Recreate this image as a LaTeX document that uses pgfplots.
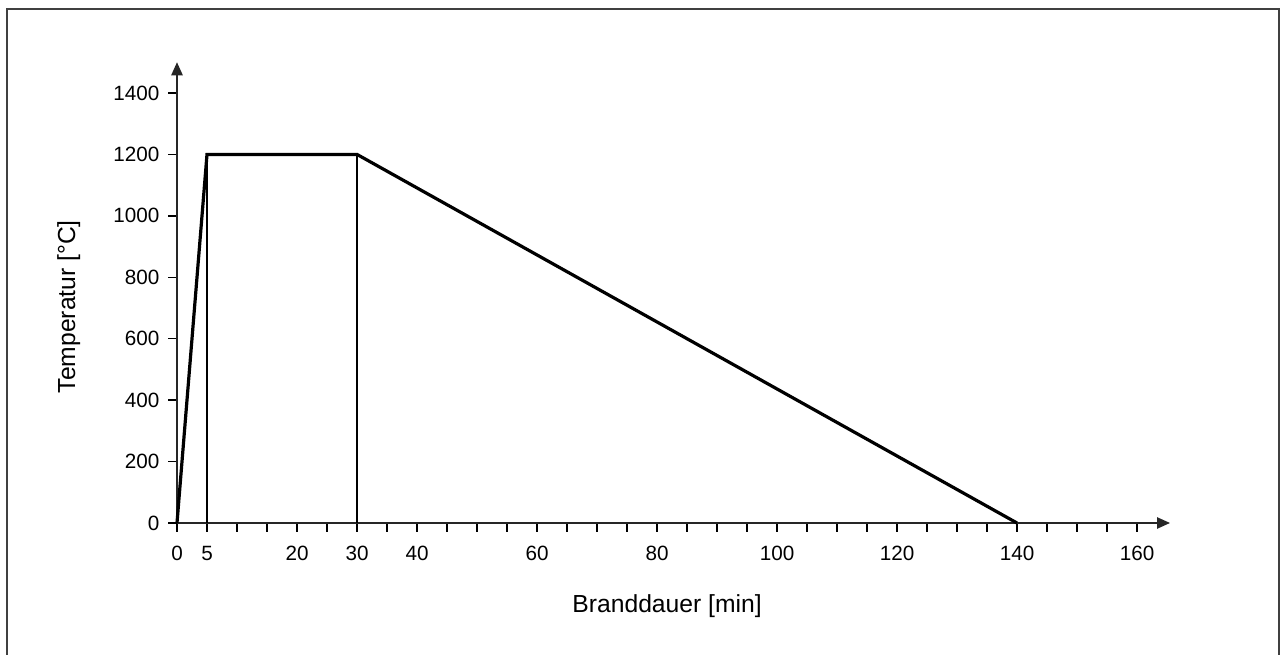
\documentclass[border=0pt]{standalone}
\usepackage{fontspec}
\setmainfont{Liberation Sans}
\usepackage{pgfplots}
\pgfplotsset{compat=1.18}
\usetikzlibrary{arrows.meta}

\begin{document}
\begin{tikzpicture}
\useasboundingbox (0,0) rectangle (960pt,491.25pt);
\draw[line width=1.5pt, color=black!75] (5.25pt,0) -- (5.25pt,484.5pt) -- (959.25pt,484.5pt) -- (959.25pt,0);
\begin{axis}[
  at={(132.75pt,99pt)}, anchor=origin,
  x=4.5pt, y=0.23036pt,
  xmin=0, xmax=165.5, ymin=0, ymax=1500,
  clip=false,
  axis lines=left,
  axis line style={line width=1.1pt, black!85, -{Triangle[length=9.75pt,width=8.5pt]}},
  tick align=outside,
  tick style={line width=1pt, black},
  major tick length=6.75pt, minor tick length=6.75pt,
  xtick={0,5,...,160},
  xticklabels={0,5,{},{},20,{},30,{},40,{},{},{},60,{},{},{},80,{},{},{},100,{},{},{},120,{},{},{},140,{},{},{},160},
  ytick={0,200,...,1400},
  /pgf/number format/1000 sep={},
  /pgf/number format/assume math mode=true,
  ticklabel style={font=\fontsize{15.5}{17}\selectfont},
  xticklabel style={yshift=-7pt},
  yticklabel style={xshift=-3pt},
  label style={font=\fontsize{18.5}{20}\selectfont},
  xlabel={Branddauer [min]},
  ylabel={Temperatur [°C]},
  xlabel style={at={(rel axis cs:0.4935,-0.1952)}, anchor=base},
  ylabel style={at={(rel axis cs:-0.1027,0.4696)}, anchor=base},
]
\addplot[line width=0.8pt, black] coordinates {(5,0) (5,1200)};
\addplot[line width=0.8pt, black] coordinates {(30,0) (30,1200)};
\addplot[line width=2.4pt, black] coordinates {(0,0) (5,1200) (30,1200) (140,0)};
\end{axis}
\end{tikzpicture}
\end{document}
